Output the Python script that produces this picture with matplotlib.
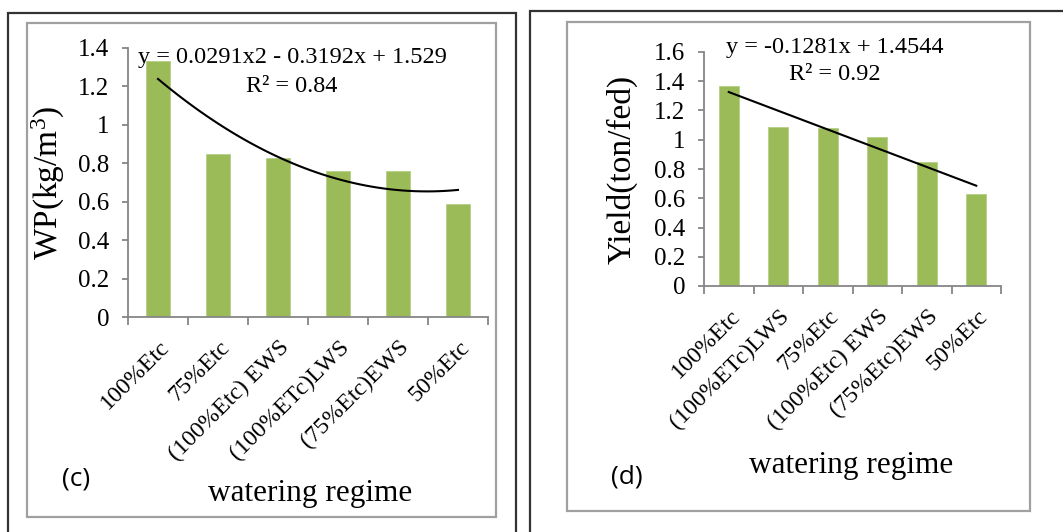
import numpy as np
import matplotlib
matplotlib.use("Agg")
from matplotlib import pyplot as plt
from matplotlib.patches import Rectangle
from matplotlib.transforms import ScaledTranslation

plt.rcParams['font.family'] = ['Liberation Serif', 'DejaVu Serif']
plt.rcParams['mathtext.fontset'] = 'custom'
plt.rcParams['mathtext.rm'] = 'Liberation Serif'
plt.rcParams['mathtext.it'] = 'Liberation Serif:italic'

# panel (c) water productivity
wp_regimes = ["100%Etc", "75%Etc", "(100%Etc) EWS", "(100%ETc)LWS", "(75%Etc)EWS", "50%Etc"]
wp_values = [1.33, 0.85, 0.83, 0.76, 0.76, 0.59]
wp_fit = [0.0291, -0.3192, 1.529]          # poly trendline coefficients
wp_text = ["y = 0.0291x2 - 0.3192x + 1.529", "R\u00b2 = 0.84"]

# panel (d) yield
yd_regimes = ["100%Etc", "(100%ETc)LWS", "75%Etc", "(100%Etc) EWS", "(75%Etc)EWS", "50%Etc"]
yd_values = [1.37, 1.09, 1.08, 1.02, 0.85, 0.63]
yd_fit = [-0.1281, 1.4544]                # linear trendline coefficients
yd_text = ["y = -0.1281x + 1.4544", "R\u00b2 = 0.92"]

W, H = 1063, 532
BAR = "#9BBB59"
AXC = "#868686"

fig = plt.figure(figsize=(W / 100, H / 100), dpi=100)


def px(x0, y0, x1, y1):
    # pixel box (top-left origin) -> figure fraction rect
    return [x0 / W, 1 - y1 / H, (x1 - x0) / W, (y1 - y0) / H]


def frame(x0, y0, x1, y1, color, lw):
    r = px(x0, y0, x1, y1)
    fig.add_artist(Rectangle((r[0], r[1]), r[2], r[3], transform=fig.transFigure,
                             fill=False, edgecolor=color, linewidth=lw))


# outer and inner boxes
frame(8, 13, 516, 545, "#333333", 1.6)
frame(27, 23, 496, 517, "#a0a0a0", 1.6)
frame(530, 11, 1075, 545, "#333333", 1.6)
frame(567, 22, 1030, 511, "#a0a0a0", 1.6)


def panel(rect, cats, vals, fit, eq, ymax, ylabel, ylab_x, eq_xy, tag, tag_xy, xl_xy):
    ax = fig.add_axes(px(*rect))
    x = np.arange(len(cats))
    ax.bar(x, vals, width=0.4, color=BAR, edgecolor="#b5cf85", linewidth=0.6, zorder=2)
    tx = np.linspace(1, len(cats), 50)
    ax.plot(tx - 1, np.polyval(fit, tx), color="black", lw=1.5, zorder=3)
    ax.set_xlim(-0.5, len(cats) - 0.5)
    ax.set_ylim(0, ymax)
    ax.set_yticks(np.arange(0, ymax + 0.01, 0.2))
    ax.set_yticklabels(["0" if v == 0 else ("1" if abs(v - 1) < 1e-9 else "%.1f" % v)
                        for v in np.arange(0, ymax + 0.01, 0.2)])
    # category labels, rotated like Excel (end of text just under the bar)
    ax.set_xticks(np.arange(-0.5, len(cats)))
    ax.set_xticklabels([])
    off = ax.get_xaxis_transform() + ScaledTranslation(0.08, -0.27, fig.dpi_scale_trans)
    for i, c in enumerate(cats):
        ax.text(i, 0, c, transform=off, rotation=45, rotation_mode="anchor",
                ha="right", va="center", fontsize=17.3)
    ax.tick_params(axis="x", length=5.5, width=1.3, color=AXC)
    ax.tick_params(axis="y", length=4.5, width=1.3, color=AXC, labelsize=18, pad=9)
    for s in ["top", "right"]:
        ax.spines[s].set_visible(False)
    for s in ["left", "bottom"]:
        ax.spines[s].set_color(AXC)
        ax.spines[s].set_linewidth(1.3)
    ax.set_ylabel(ylabel, fontsize=24)
    ax.yaxis.set_label_coords(ylab_x, 0.5)
    fig.text(eq_xy[0] / W, 1 - eq_xy[1] / H, eq[0], fontsize=17.5, ha="center", va="center")
    fig.text(eq_xy[0] / W, 1 - (eq_xy[1] + 28) / H, eq[1], fontsize=17.5, ha="center", va="center")
    fig.text(tag_xy[0] / W, 1 - tag_xy[1] / H, tag, fontsize=19, ha="center", va="center",
             family="Open Sans")
    fig.text(xl_xy[0] / W, 1 - xl_xy[1] / H, "watering regime", fontsize=22.5,
             ha="center", va="center")
    return ax


panel((128, 48, 488, 317), wp_regimes, wp_values, wp_fit, wp_text, 1.4,
      r"WP(kg/m$^{3}$)", -0.17, (292, 58), "(c)", (76, 479), (310, 494))
panel((704, 52, 1001, 286), yd_regimes, yd_values, yd_fit, yd_text, 1.6,
      "Yield(ton/fed)", -0.225, (835, 47), "(d)", (627, 477), (851, 465))

fig.savefig("out.png", dpi=100)
